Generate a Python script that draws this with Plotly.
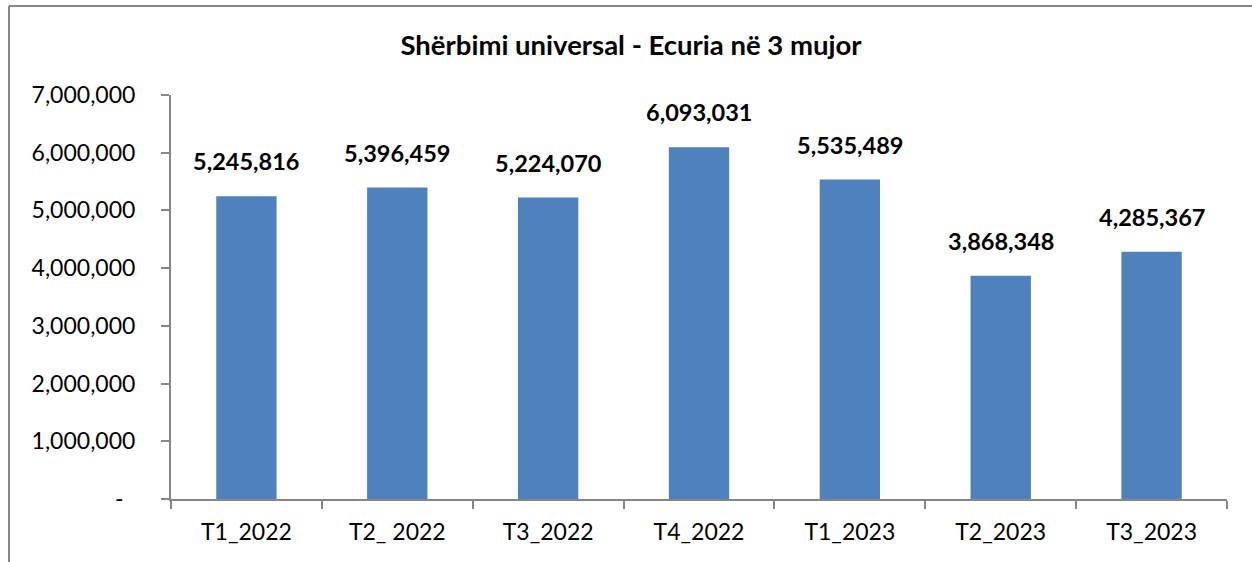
import plotly.graph_objects as go

categories = ["T1_2022", "T2_ 2022", "T3_2022", "T4_2022", "T1_2023", "T2_2023", "T3_2023"]
values = [5245816, 5396459, 5224070, 6093031, 5535489, 3868348, 4285367]
tick_vals = [0, 1000000, 2000000, 3000000, 4000000, 5000000, 6000000, 7000000]
tick_text = ["-\u00a0\u00a0", "1,000,000", "2,000,000", "3,000,000", "4,000,000",
             "5,000,000", "6,000,000", "7,000,000"]
title_text = "Shërbimi universal - Ecuria në 3 mujor"

W, H = 1252, 562
L, R, T, B = 171, 25, 95, 63
pw, ph = W - L - R, H - T - B

FONT = "Lato"
AXIS_COLOR = "#868686"

fig = go.Figure()
fig.add_trace(go.Bar(
    x=categories, y=values,
    marker=dict(color="#4F81BD", line=dict(width=0)),
    hoverinfo="x+y",
))

for c, v in zip(categories, values):
    fig.add_annotation(
        x=c, y=v, xref="x", yref="y",
        text="<b>{:,}</b>".format(v),
        showarrow=False, yanchor="bottom", yshift=19,
        font=dict(family=FONT, size=23.5, color="black"),
    )

# outer chart frame (top and left edges visible)
fx = (9 - L) / pw
fy = 1 + (T - 6) / ph
fig.add_shape(type="line", xref="paper", yref="paper",
              x0=fx, x1=(W + 20 - L) / pw, y0=fy, y1=fy,
              line=dict(color=AXIS_COLOR, width=2))
fig.add_shape(type="line", xref="paper", yref="paper",
              x0=fx, x1=fx, y0=fy, y1=-(B + 20) / ph,
              line=dict(color=AXIS_COLOR, width=2))

fig.update_layout(
    width=W, height=H,
    margin=dict(l=L, r=R, t=T, b=B, autoexpand=False),
    paper_bgcolor="white", plot_bgcolor="white",
    showlegend=False,
    bargap=0.6,
    title=dict(text="<b>" + title_text + "</b>", x=0.504, xanchor="center",
               y=1 - 45 / H, yanchor="middle", xref="container", yref="container",
               font=dict(family=FONT, size=27.5, color="black")),
    font=dict(family=FONT, color="black"),
)
fig.update_xaxes(
    type="category", showline=True, linecolor=AXIS_COLOR, linewidth=2,
    ticks="outside", tickson="boundaries", ticklen=8, tickwidth=2, tickcolor=AXIS_COLOR,
    tickfont=dict(family=FONT, size=23, color="black"), ticklabelstandoff=11,
    showgrid=False, zeroline=False,
)
fig.update_yaxes(
    range=[0, 7000000], tickvals=tick_vals, ticktext=tick_text,
    showline=True, linecolor=AXIS_COLOR, linewidth=2,
    ticks="outside", ticklen=8, tickwidth=2, tickcolor=AXIS_COLOR,
    tickfont=dict(family=FONT, size=23, color="black"), ticklabelstandoff=21,
    showgrid=False, zeroline=False,
)

fig.write_html("out.html", config={"displayModeBar": False},
               post_script="document.body.style.margin='0';")
